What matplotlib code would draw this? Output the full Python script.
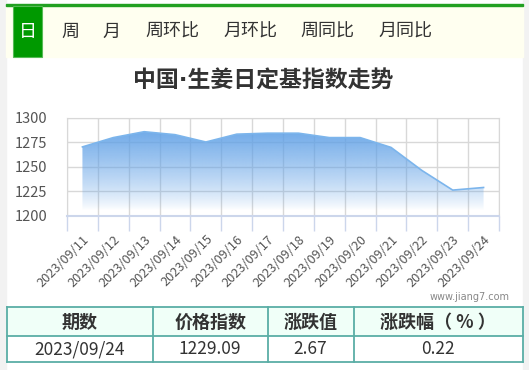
import numpy as np
import matplotlib.pyplot as plt
from matplotlib.patches import Rectangle

plt.rcParams['font.family'] = ['Noto Sans CJK SC', 'DejaVu Sans']

# data
dates = ["2023/09/11", "2023/09/12", "2023/09/13", "2023/09/14", "2023/09/15",
         "2023/09/16", "2023/09/17", "2023/09/18", "2023/09/19", "2023/09/20",
         "2023/09/21", "2023/09/22", "2023/09/23", "2023/09/24"]
values = [1270.5, 1280.0, 1286.0, 1283.0, 1275.5, 1283.5, 1284.5,
          1284.5, 1280.0, 1280.0, 1270.0, 1246.5, 1226.42, 1229.09]
tabs = ["日", "周", "月", "周环比", "月环比", "周同比", "月同比"]
tab_x = [28, 70, 111, 172, 250, 327, 405]
y_ticks = [1200, 1225, 1250, 1275, 1300]
table_head = ["期数", "价格指数", "涨跌值", "涨跌幅（ % ）"]
table_row = ["2023/09/24", "1229.09", "2.67", "0.22"]

W, H = 529, 370
fig = plt.figure(figsize=(W / 100, H / 100), dpi=100)
fig.patch.set_facecolor("white")

def fx(x):
    return x / W

def fy(y):
    return 1 - y / H

# page background pieces
bg = fig.add_axes([0, 0, 1, 1], zorder=-5)
bg.set_xlim(0, W)
bg.set_ylim(H, 0)
bg.axis("off")
bg.add_patch(Rectangle((0, 0), 6, H, color="#f2f2f2"))
bg.add_patch(Rectangle((523, 0), 6, H, color="#f2f2f2"))
bg.add_patch(Rectangle((6, 6), 517, 51, color="#fffff0"))
bg.add_patch(Rectangle((6, 4), 517, 2.2, color="#22a022"))
bg.add_patch(Rectangle((12.5, 6), 29.5, 51, facecolor="#009900", edgecolor="#55bb55", lw=0.8))

for t, x in zip(tabs, tab_x):
    c = "white" if t == "日" else "#333333"
    fig.text(fx(x), fy(32), t, ha="center", va="center", fontsize=13, color=c)

# narrow dot from DejaVu, CJK glyphs from Noto
fig.text(fx(263), fy(81), "中国·生姜日定基指数走势", ha="center", va="center",
         fontsize=16.5, fontweight="bold", color="#333333",
         family=["DejaVu Sans", "Noto Sans CJK SC"])

# chart
ax = fig.add_axes([fx(67), fy(216), fx(499) - fx(67), fy(118) - fy(216)])
xs = np.arange(len(values))
ax.set_xlim(-0.5, len(values) - 0.5)
ax.set_ylim(1200, 1300)

verts = [(xs[0], 1200)] + list(zip(xs, values)) + [(xs[-1], 1200)]
poly = plt.Polygon(verts, closed=True, facecolor="none", edgecolor="none")
ax.add_patch(poly)
grad = np.zeros((200, 1, 4))
tvals = np.linspace(0, 1, 200)
grad[:, 0, 0] = 95 / 255
grad[:, 0, 1] = 160 / 255
grad[:, 0, 2] = 230 / 255
grad[:, 0, 3] = np.clip((tvals - 0.06) / 0.94, 0, 1) ** 0.8
im = ax.imshow(grad, extent=[-0.5, len(values) - 0.5, 1200, 1300], origin="lower",
               aspect="auto", zorder=2, interpolation="bilinear")
im.set_clip_path(poly)
ax.plot(xs, values, color="#7cb5ec", lw=1.2, zorder=3)

ax.set_yticks(y_ticks)
ax.set_yticklabels([str(v) for v in y_ticks])
ax.set_xticks(xs)
ax.set_xticklabels(dates, rotation=45, ha="right", va="top", rotation_mode="anchor")
ax.set_xticks(np.arange(-0.5, len(values)), minor=True)
ax.tick_params(axis="x", which="major", length=0, pad=12, labelsize=9.2, labelcolor="#555555")
ax.tick_params(axis="x", which="minor", length=11, color="#ccd6eb", width=1)
ax.tick_params(axis="y", length=0, pad=14, labelsize=10.5, labelcolor="#555555")
ax.grid(True, axis="y", color="#d8d8d8", lw=1)
ax.grid(True, axis="x", which="minor", color="#d8d8d8", lw=1)
for s in ["left", "right", "top"]:
    ax.spines[s].set_color("#d8d8d8")
ax.spines["bottom"].set_color("#ccd6eb")
ax.spines["bottom"].set_linewidth(1.5)
ax.set_axisbelow(True)

fig.text(fx(510), fy(297), "www.jiang7.com", ha="right", va="center",
         fontsize=7, color="#888888", family="DejaVu Sans")

# table
col_edges = [7, 153, 267.5, 353.5, 523]
row_edges = [307, 336, 362]
bg.add_patch(Rectangle((7, 307), 516, 29, facecolor="#f0fff8", edgecolor="none"))
for x in col_edges:
    bg.plot([x, x], [row_edges[0], row_edges[-1]], color="#5aaea6", lw=1.3)
for y in row_edges:
    bg.plot([col_edges[0], col_edges[-1]], [y, y], color="#5aaea6", lw=1.3)
for i in range(4):
    cx = (col_edges[i] + col_edges[i + 1]) / 2
    fig.text(fx(cx), fy(322), table_head[i], ha="center", va="center",
             fontsize=13, fontweight="bold", color="#333333")
    fig.text(fx(cx), fy(349.5), table_row[i], ha="center", va="center",
             fontsize=12.5, color="#333333")

fig.savefig("out.png", dpi=100, facecolor="white")
